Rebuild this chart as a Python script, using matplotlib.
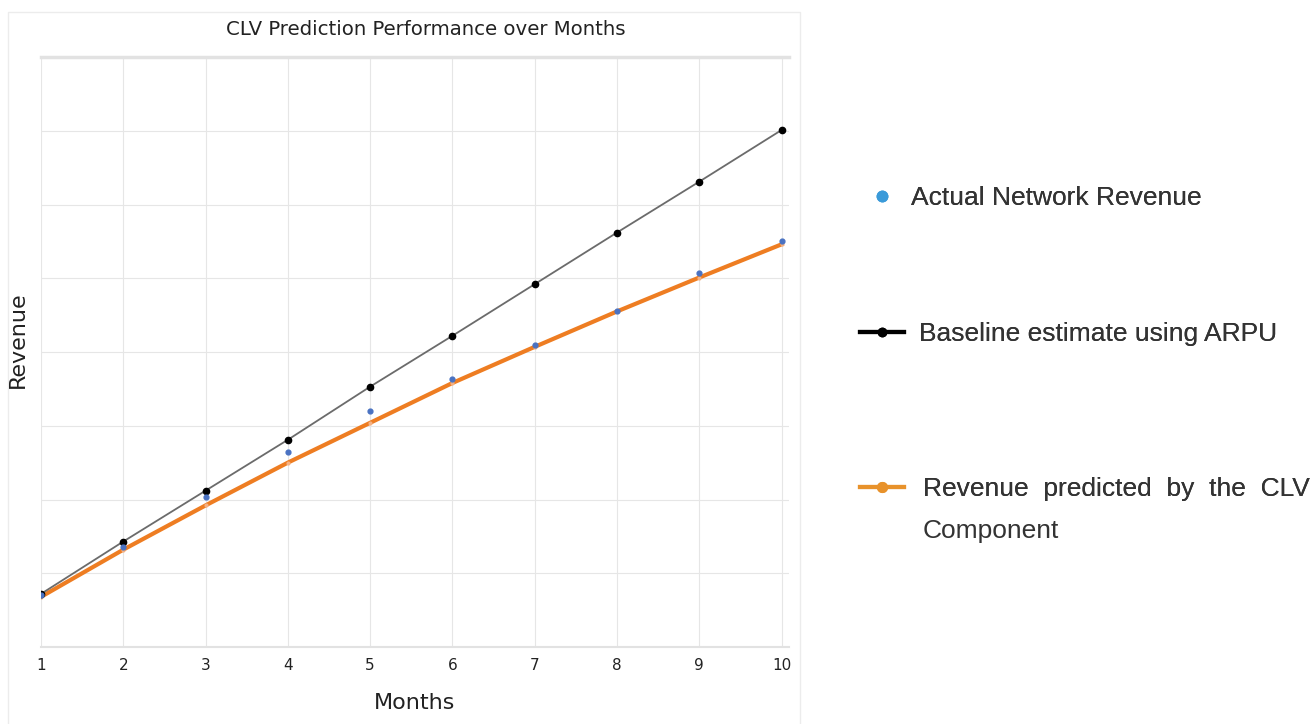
import matplotlib.pyplot as plt
from matplotlib.lines import Line2D
from matplotlib.patches import Rectangle

months = [1, 2, 3, 4, 5, 6, 7, 8, 9, 10]
baseline = [0.72, 1.43, 2.12, 2.81, 3.53, 4.22, 4.92, 5.62, 6.31, 7.01]
actual = [0.70, 1.35, 2.03, 2.65, 3.20, 3.64, 4.09, 4.55, 5.07, 5.50]
predicted = [0.68, 1.32, 1.92, 2.50, 3.04, 3.58, 4.07, 4.55, 5.01, 5.46]

narrow = ['Liberation Sans Narrow', 'DejaVu Sans']
plain = ['Liberation Sans', 'DejaVu Sans']

fig = plt.figure(figsize=(13.16, 7.24), dpi=100)
ax = fig.add_axes([41 / 1316, 77 / 724, 748 / 1316, 590 / 724])

# faint frame around the chart panel
fig.add_artist(Rectangle((8 / 1316, -0.01), 792 / 1316, 1.01 - 12 / 724,
                         transform=fig.transFigure, fill=False,
                         edgecolor='#ececec', lw=1))

ax.plot(months, predicted, color='#ee7d22', lw=3, marker='o', ms=3,
        mfc='#f4b183', mec='none', zorder=2)
ax.plot(months, baseline, color='#6b6b6b', lw=1.3, marker='o', ms=4.5,
        mfc='black', mec='black', zorder=3)
ax.scatter(months, actual, s=12, color='#4a72c2', zorder=4)

ax.set_xlim(1, 10.09)
ax.set_ylim(0, 8)
ax.set_xticks(months)
ax.set_yticks(range(0, 9))
ax.set_yticklabels([])
ax.tick_params(axis='both', length=0)
ax.tick_params(axis='x', pad=8, labelsize=11, labelcolor='#222222')
for lab in ax.get_xticklabels():
    lab.set_family(narrow)
ax.grid(True, color='#e6e6e6', lw=0.8)
ax.set_axisbelow(True)
for s in ['left', 'right']:
    ax.spines[s].set_visible(False)
ax.spines['top'].set_color('#e2e2e2')
ax.spines['top'].set_linewidth(2.5)
ax.spines['bottom'].set_color('#e2e2e2')
ax.spines['bottom'].set_linewidth(1.5)

ax.set_title('CLV Prediction Performance over Months', family=narrow,
             fontsize=14.2, color='#222222', pad=16, x=0.514)
ax.set_xlabel('Months', family=narrow, fontsize=16, color='#222222', labelpad=14)
fig.text(18 / 1316, 1 - 340 / 724, 'Revenue', rotation=90, family=narrow,
         fontsize=16, color='#222222', ha='center', va='center')

# legend entries, placed one by one like the original side panel
entries = [
    (Line2D([], [], ls='none', marker='o', ms=7.5, color='#3a9ad9'),
     'Actual Network Revenue', 198, 0.3),
    (Line2D([], [], color='black', lw=3, marker='o', ms=6),
     'Baseline estimate using ARPU', 334, 0.6),
    (Line2D([], [], color='#e8922b', lw=3, marker='o', ms=7),
     'Revenue  predicted  by  the  CLV', 489, 0.75),
]
for handle, label, ypix, pad in entries:
    leg = fig.legend([handle], [label], loc='center left',
                     bbox_to_anchor=(860 / 1316, 1 - ypix / 724),
                     frameon=False, handlelength=1.65, handletextpad=pad,
                     prop={'family': plain, 'size': 19},
                     labelcolor='#333333', borderaxespad=0, borderpad=0)
    fig.add_artist(leg)
fig.text(923 / 1316, 1 - 531 / 724, 'Component', family=plain, fontsize=19,
         color='#333333', va='center')

fig.savefig('out.png', dpi=100)
